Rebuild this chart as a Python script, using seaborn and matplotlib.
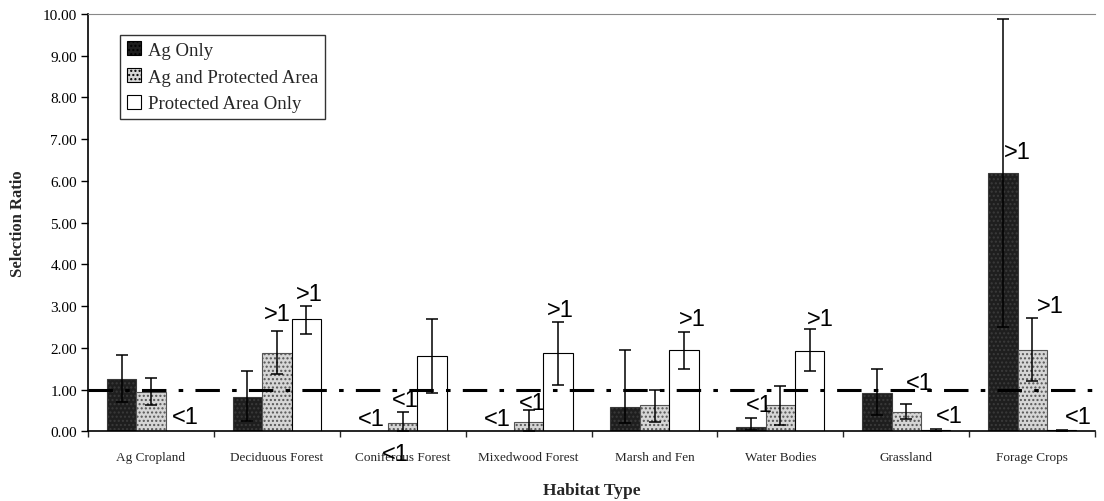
import numpy as np
import pandas as pd
import matplotlib
matplotlib.use("Agg")
import matplotlib.pyplot as plt
import seaborn as sns
from matplotlib.ticker import FormatStrFormatter, FixedLocator
from matplotlib.patches import Patch

# ---------------- data ----------------
categories = ["Ag Cropland", "Deciduous Forest", "Coniferous Forest", "Mixedwood Forest",
              "Marsh and Fen", "Water Bodies", "Grassland", "Forage Crops"]
series = ["Ag Only", "Ag and Protected Area", "Protected Area Only"]

ag_only = [1.25, 0.83, 0.0, 0.0, 0.57, 0.10, 0.92, 6.19]
ag_only_lo = [0.70, 0.25, np.nan, np.nan, 0.20, 0.02, 0.40, 2.50]
ag_only_hi = [1.82, 1.45, np.nan, np.nan, 1.95, 0.32, 1.50, 9.88]

ag_pa = [0.93, 1.88, 0.20, 0.22, 0.63, 0.63, 0.47, 1.94]
ag_pa_lo = [0.62, 1.38, 0.00, 0.00, 0.22, 0.15, 0.30, 1.20]
ag_pa_hi = [1.27, 2.40, 0.45, 0.50, 1.00, 1.08, 0.65, 2.71]

pa_only = [0.0, 2.68, 1.80, 1.88, 1.95, 1.93, 0.02, 0.02]
pa_only_lo = [np.nan, 2.33, 0.92, 1.10, 1.50, 1.45, 0.00, 0.00]
pa_only_hi = [np.nan, 3.00, 2.70, 2.62, 2.38, 2.45, 0.05, 0.03]

# significance labels: (category, text)
sig_labels = [
    ("Ag Cropland", "<1"),
    ("Deciduous Forest", ">1"), ("Deciduous Forest", ">1"),
    ("Coniferous Forest", "<1"), ("Coniferous Forest", "<1"), ("Coniferous Forest", "<1"),
    ("Mixedwood Forest", "<1"), ("Mixedwood Forest", "<1"), ("Mixedwood Forest", ">1"),
    ("Marsh and Fen", ">1"),
    ("Water Bodies", "<1"), ("Water Bodies", ">1"),
    ("Grassland", "<1"), ("Grassland", "<1"),
    ("Forage Crops", ">1"), ("Forage Crops", ">1"), ("Forage Crops", "<1"),
]
# label placement (layout only): x offset in category units, y in data units
sig_pos = [
    (0.27, 0.34),
    (0.00, 2.80), (0.26, 3.28),
    (-0.25, 0.30), (0.02, 0.75), (-0.06, -0.55),
    (-0.25, 0.30), (0.03, 0.67), (0.25, 2.90),
    (0.30, 2.68),
    (-0.17, 0.62), (0.32, 2.70),
    (0.10, 1.15), (0.34, 0.36),
    (-0.12, 6.70), (0.14, 3.00), (0.37, 0.34),
]

ref_line = 1.0

# ---------------- build ----------------
df = pd.DataFrame({
    "Habitat Type": categories * 3,
    "Series": [series[0]] * 8 + [series[1]] * 8 + [series[2]] * 8,
    "Selection Ratio": ag_only + ag_pa + pa_only,
})

sns.set_theme(style="white")
plt.rcParams["font.family"] = ["Liberation Serif", "DejaVu Serif"]

fig = plt.figure(figsize=(11.04, 5.02), dpi=100)
ax = fig.add_axes([0.0797, 0.139, 0.9123, 0.831])

colors = ["#1e1e1e", "#d6d6d6", "#ffffff"]
sns.barplot(data=df, x="Habitat Type", y="Selection Ratio", hue="Series",
            order=categories, hue_order=series, palette=colors,
            width=0.7, gap=0, saturation=1, edgecolor="black", linewidth=0.8,
            legend=False, ax=ax)
bar_conts = list(ax.containers)

# texture on the filled bars
for p in bar_conts[1]:
    p.set_hatch("....")
    p.set_edgecolor("#555555")
for p in bar_conts[0]:
    p.set_hatch("....")
    p.set_edgecolor("#3a3a3a")

vals = [ag_only, ag_pa, pa_only]
los = [ag_only_lo, ag_pa_lo, pa_only_lo]
his = [ag_only_hi, ag_pa_hi, pa_only_hi]
for cont, v, lo, hi in zip(bar_conts, vals, los, his):
    xs = np.array([p.get_x() + p.get_width() / 2 for p in cont])
    v = np.array(v); lo = np.array(lo); hi = np.array(hi)
    m = ~np.isnan(lo)
    ax.errorbar(xs[m], v[m], yerr=[v[m] - lo[m], hi[m] - v[m]],
                fmt="none", ecolor="black", elinewidth=1.1, capsize=4, capthick=1.1, zorder=5)

ax.axhline(ref_line, color="black", lw=2.2, ls=(0, (8, 4, 1.5, 4)), zorder=6)

for (cat, txt), (dx, y) in zip(sig_labels, sig_pos):
    ax.text(categories.index(cat) + dx, y, txt, ha="center", va="center",
            fontsize=17, family=["Liberation Sans", "DejaVu Sans"], color="black",
            clip_on=False, zorder=7)

ax.set_ylim(0, 10)
ax.set_xlim(-0.5, 7.5)
ax.set_yticks(np.arange(0, 10.01, 1))
ax.yaxis.set_major_formatter(FormatStrFormatter("%.2f"))
ax.tick_params(axis="y", which="major", left=True, direction="out", length=5, width=1,
               labelsize=11, colors="black", pad=3)
ax.tick_params(axis="x", which="major", bottom=False, labelsize=9.5, pad=8)
ax.xaxis.set_minor_locator(FixedLocator(np.arange(-0.5, 8, 1)))
ax.tick_params(axis="x", which="minor", bottom=True, direction="out", length=4, width=1)

for s in ["left", "bottom"]:
    ax.spines[s].set_color("black")
    ax.spines[s].set_linewidth(1.2)
ax.spines["top"].set_color("#888888")
ax.spines["top"].set_linewidth(0.8)
ax.spines["top"].set_linestyle((0, (2, 1)))
ax.spines["right"].set_visible(False)

ax.set_ylabel("Selection Ratio", fontsize=12, fontweight="bold", labelpad=12)
ax.set_xlabel("Habitat Type", fontsize=12.5, fontweight="bold", labelpad=14)

leg_handles = [Patch(facecolor=colors[i], edgecolor="black", linewidth=0.8,
                     hatch=("...." if i < 2 else None)) for i in range(3)]
leg = ax.legend(leg_handles, series, loc="upper left", bbox_to_anchor=(0.032, 0.95),
                fontsize=13.5, frameon=True, fancybox=False, edgecolor="black",
                handlelength=0.75, handleheight=0.75, handletextpad=0.4,
                labelspacing=0.5, borderpad=0.35, borderaxespad=0)
leg.get_frame().set_linewidth(1.0)

fig.savefig("out.png", dpi=100)
